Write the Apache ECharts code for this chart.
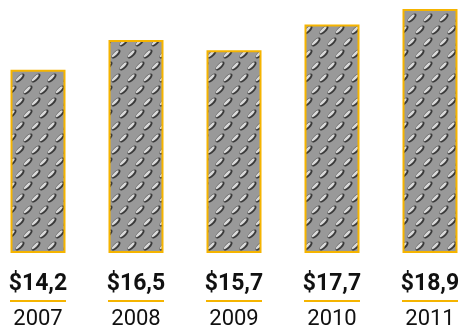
<!DOCTYPE html>
<html><head><meta charset="utf-8">
<script src="https://cdn.jsdelivr.net/npm/echarts@6/dist/echarts.min.js"></script>
<style>html,body{margin:0;padding:0;background:#fff}#c{width:461px;height:334px}</style>
</head><body><div id="c"></div>
<script>
var years = ['2007','2008','2009','2010','2011'];
var values = [14.2, 16.5, 15.7, 17.7, 18.9];

function makeTile(){
  var w = 16, h = 24;
  var c = document.createElement('canvas');
  c.width = w; c.height = h;
  var g = c.getContext('2d');
  g.fillStyle = '#999999';
  g.fillRect(0,0,w,h);
  function oval(cx, cy){
    g.save();
    g.translate(cx, cy);
    g.rotate(-Math.PI/4);
    g.beginPath();
    g.ellipse(0,0,5.8,2.6,0,0,Math.PI*2);
    g.fillStyle = '#3a3a3a';
    g.fill();
    g.beginPath();
    g.ellipse(-0.3,-0.8,4.6,1.4,0,0,Math.PI*2);
    g.fillStyle = '#d8d8d8';
    g.fill();
    g.restore();
  }
  var base = [[4,6],[12,18]];
  base.forEach(function(p){
    for (var dx=-1; dx<=1; dx++) for (var dy=-1; dy<=1; dy++) oval(p[0]+dx*w, p[1]+dy*h);
  });
  return c;
}

var chart = echarts.init(document.getElementById('c'));
chart.setOption({
  animation: false,
  grid: {left: -11, top: 9, width: 490, bottom: 81, containLabel: false, outerBoundsMode: 'none'},
  xAxis: {
    type: 'category', data: years,
    axisLine: {show: false}, axisTick: {show: false},
    axisLabel: {
      margin: 18,
      formatter: function(v, i){
        return '{v|$' + values[i].toFixed(1).replace('.', ',') + '}\n{u|}\n{y|' + v + '}';
      },
      rich: {
        v: {fontFamily: 'Roboto', fontWeight: 'bold', fontSize: 23, color: '#111', lineHeight: 26},
        u: {width: 56, height: 2, backgroundColor: '#f5b400', lineHeight: 8},
        y: {fontFamily: 'Roboto', fontSize: 22, color: '#111', lineHeight: 28}
      }
    }
  },
  yAxis: {type: 'value', min: 0, max: 18.9, show: false, splitLine: {show: false}},
  series: [{
    type: 'bar', data: values, barWidth: 55,
    itemStyle: {
      color: {image: makeTile(), repeat: 'repeat'},
      borderColor: '#f5b400', borderWidth: 2
    }
  }]
});
</script></body></html>
